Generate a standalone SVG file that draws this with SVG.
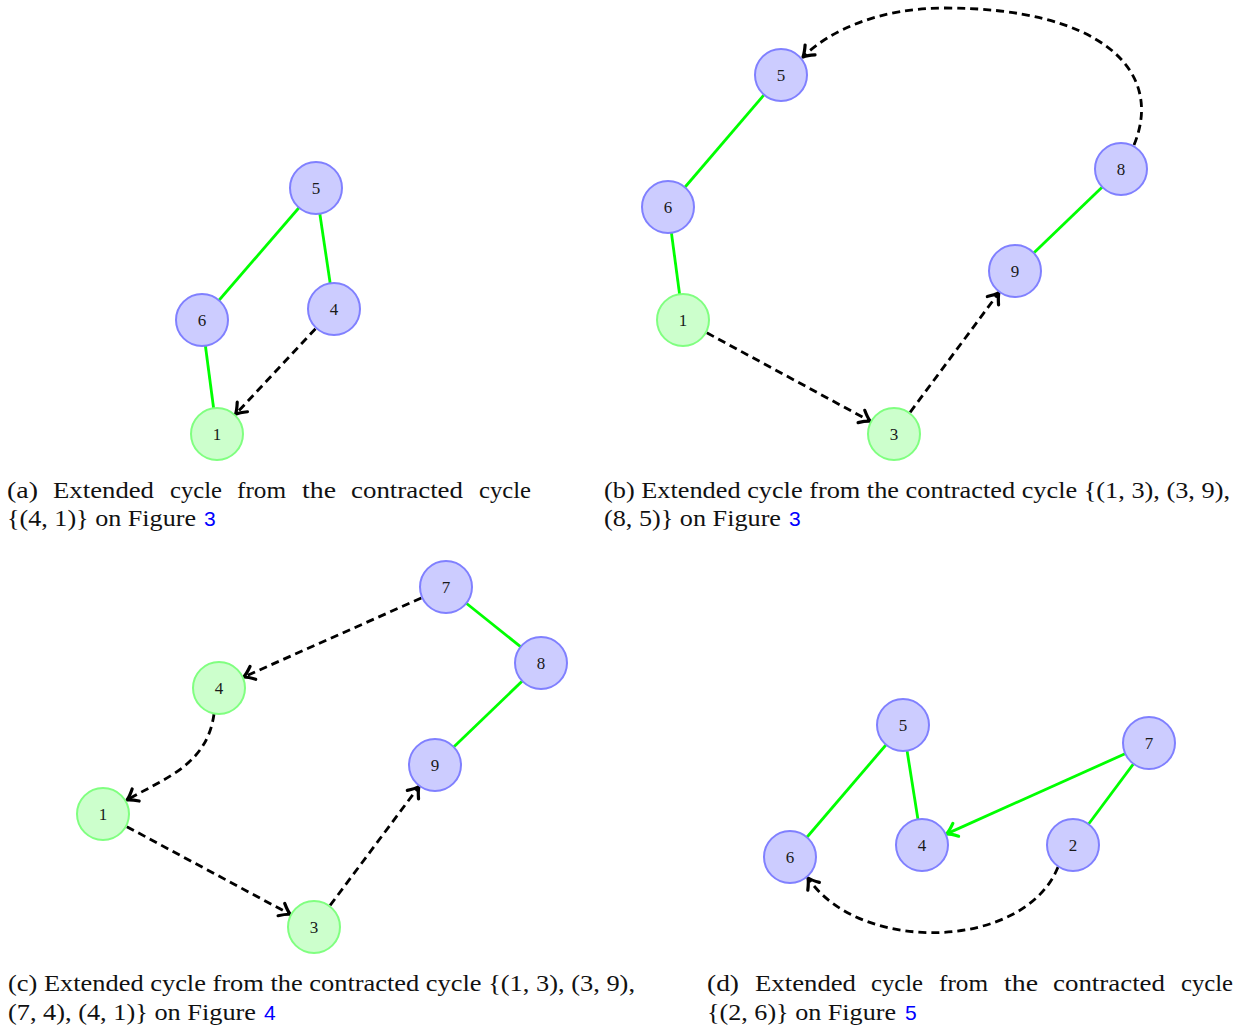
<svg xmlns="http://www.w3.org/2000/svg" width="1247" height="1028" viewBox="0 0 1247 1028">
  <style>
    .blue circle { fill: #ccccff; stroke: #8080ff; stroke-width: 2; }
    .green circle { fill: #ccffcc; stroke: #80ff80; stroke-width: 2; }
    .node text { font-family: "Liberation Serif", "DejaVu Serif", serif; font-size: 17px; fill: #1a1a1a; text-anchor: middle; }
    .solid { stroke: #00ff00; stroke-width: 2.8; fill: none; }
    .dash { stroke: #000; stroke-width: 2.8; fill: none; stroke-dasharray: 8 5; marker-end: url(#head); }
    .cap { font-family: "Liberation Serif", "DejaVu Serif", serif; font-size: 23.5px; fill: #111; }
    .ref { font-family: "Liberation Sans", "DejaVu Sans", sans-serif; font-size: 21px; fill: #0000ff; }
  </style>
  <defs>
    <marker id="head" markerUnits="userSpaceOnUse" markerWidth="24" markerHeight="24" refX="0" refY="0" viewBox="-14 -12 16 24" orient="auto" overflow="visible">
      <path d="M-10,-7 Q-4,-1.8 0,0 Q-4,1.8 -10,7" fill="none" stroke="#000" stroke-width="3.2" stroke-linecap="round" stroke-linejoin="round"/>
    </marker>
    <marker id="headG" markerUnits="userSpaceOnUse" markerWidth="24" markerHeight="24" refX="0" refY="0" viewBox="-14 -12 16 24" orient="auto" overflow="visible">
      <path d="M-10,-7 Q-4,-1.8 0,0 Q-4,1.8 -10,7" fill="none" stroke="#00ff00" stroke-width="3.2" stroke-linecap="round" stroke-linejoin="round"/>
    </marker>
  </defs>

  <!-- connectors -->
  <g id="connectors">
    <!-- (a) -->
    <line class="solid" x1="316" y1="188" x2="202" y2="320"/>
    <line class="solid" x1="316" y1="188" x2="334" y2="309"/>
    <line class="solid" x1="202" y1="320" x2="217" y2="434"/>
    <path class="dash" d="M315.5,328.7 L235.5,414.3"/>
    <!-- (b) -->
    <line class="solid" x1="781" y1="75" x2="668" y2="207"/>
    <line class="solid" x1="668" y1="207" x2="683" y2="320"/>
    <line class="solid" x1="1015" y1="271" x2="1121" y2="169"/>
    <path class="dash" d="M706.8,332.8 L870.2,421.2"/>
    <path class="dash" d="M910.1,412.3 L998.9,292.7"/>
    <path class="dash" d="M1134,145 C1165,70 1100,8 945,8 C880,8 830,30 803,57"/>
    <!-- (c) -->
    <line class="solid" x1="446" y1="587" x2="541" y2="663"/>
    <line class="solid" x1="541" y1="663" x2="435" y2="765"/>
    <path class="dash" d="M421.3,598 L243.7,677"/>
    <path class="dash" d="M214,714 C207,765 165,778 127,800"/>
    <path class="dash" d="M126.8,826.7 L290.2,914.3"/>
    <path class="dash" d="M330.1,905.4 L418.9,786.6"/>
    <!-- (d) -->
    <line class="solid" x1="903" y1="725" x2="790" y2="857"/>
    <line class="solid" x1="903" y1="725" x2="922" y2="845"/>
    <line class="solid" x1="1149" y1="743" x2="1073" y2="845"/>
    <path class="solid" d="M1149,743 L946.6,833.9" marker-end="url(#headG)"/>
    <path class="dash" d="M1058,867 C1025,950 860,955 808,878"/>
  </g>

  <!-- (a) nodes -->
  <g id="a5" class="node blue"><circle cx="316" cy="188" r="26"/><text x="316" y="194">5</text></g>
  <g id="a6" class="node blue"><circle cx="202" cy="320" r="26"/><text x="202" y="326">6</text></g>
  <g id="a4" class="node blue"><circle cx="334" cy="309" r="26"/><text x="334" y="315">4</text></g>
  <g id="a1" class="node green"><circle cx="217" cy="434" r="26"/><text x="217" y="440">1</text></g>

  <!-- (b) nodes -->
  <g id="b5" class="node blue"><circle cx="781" cy="75" r="26"/><text x="781" y="81">5</text></g>
  <g id="b6" class="node blue"><circle cx="668" cy="207" r="26"/><text x="668" y="213">6</text></g>
  <g id="b1" class="node green"><circle cx="683" cy="320" r="26"/><text x="683" y="326">1</text></g>
  <g id="b3" class="node green"><circle cx="894" cy="434" r="26"/><text x="894" y="440">3</text></g>
  <g id="b9" class="node blue"><circle cx="1015" cy="271" r="26"/><text x="1015" y="277">9</text></g>
  <g id="b8" class="node blue"><circle cx="1121" cy="169" r="26"/><text x="1121" y="175">8</text></g>

  <!-- (c) nodes -->
  <g id="c7" class="node blue"><circle cx="446" cy="587" r="26"/><text x="446" y="593">7</text></g>
  <g id="c8" class="node blue"><circle cx="541" cy="663" r="26"/><text x="541" y="669">8</text></g>
  <g id="c4" class="node green"><circle cx="219" cy="688" r="26"/><text x="219" y="694">4</text></g>
  <g id="c9" class="node blue"><circle cx="435" cy="765" r="26"/><text x="435" y="771">9</text></g>
  <g id="c1" class="node green"><circle cx="103" cy="814" r="26"/><text x="103" y="820">1</text></g>
  <g id="c3" class="node green"><circle cx="314" cy="927" r="26"/><text x="314" y="933">3</text></g>

  <!-- (d) nodes -->
  <g id="d5" class="node blue"><circle cx="903" cy="725" r="26"/><text x="903" y="731">5</text></g>
  <g id="d7" class="node blue"><circle cx="1149" cy="743" r="26"/><text x="1149" y="749">7</text></g>
  <g id="d6" class="node blue"><circle cx="790" cy="857" r="26"/><text x="790" y="863">6</text></g>
  <g id="d4" class="node blue"><circle cx="922" cy="845" r="26"/><text x="922" y="851">4</text></g>
  <g id="d2" class="node blue"><circle cx="1073" cy="845" r="26"/><text x="1073" y="851">2</text></g>

  <!-- captions: justified first lines are set word by word -->
  <g id="captions">
    <text class="cap" y="498">
      <tspan x="7" textLength="31" lengthAdjust="spacingAndGlyphs">(a)</tspan>
      <tspan x="53" textLength="101" lengthAdjust="spacingAndGlyphs">Extended</tspan>
      <tspan x="170" textLength="52" lengthAdjust="spacingAndGlyphs">cycle</tspan>
      <tspan x="237" textLength="49" lengthAdjust="spacingAndGlyphs">from</tspan>
      <tspan x="302" textLength="34" lengthAdjust="spacingAndGlyphs">the</tspan>
      <tspan x="351" textLength="112" lengthAdjust="spacingAndGlyphs">contracted</tspan>
      <tspan x="479" textLength="52" lengthAdjust="spacingAndGlyphs">cycle</tspan>
    </text>
    <text class="cap" x="7" y="526" textLength="189" lengthAdjust="spacingAndGlyphs">{(4, 1)} on Figure</text>
    <text class="ref" x="204" y="526">3</text>

    <text class="cap" x="604" y="498" textLength="626" lengthAdjust="spacingAndGlyphs">(b) Extended cycle from the contracted cycle {(1, 3), (3, 9),</text>
    <text class="cap" x="604" y="526" textLength="177" lengthAdjust="spacingAndGlyphs">(8, 5)} on Figure</text>
    <text class="ref" x="789" y="526">3</text>

    <text class="cap" x="8" y="991" textLength="627" lengthAdjust="spacingAndGlyphs">(c) Extended cycle from the contracted cycle {(1, 3), (3, 9),</text>
    <text class="cap" x="8" y="1020" textLength="248" lengthAdjust="spacingAndGlyphs">(7, 4), (4, 1)} on Figure</text>
    <text class="ref" x="264" y="1020">4</text>

    <text class="cap" y="991">
      <tspan x="707" textLength="32" lengthAdjust="spacingAndGlyphs">(d)</tspan>
      <tspan x="755" textLength="101" lengthAdjust="spacingAndGlyphs">Extended</tspan>
      <tspan x="871" textLength="52" lengthAdjust="spacingAndGlyphs">cycle</tspan>
      <tspan x="939" textLength="49" lengthAdjust="spacingAndGlyphs">from</tspan>
      <tspan x="1004" textLength="34" lengthAdjust="spacingAndGlyphs">the</tspan>
      <tspan x="1053" textLength="112" lengthAdjust="spacingAndGlyphs">contracted</tspan>
      <tspan x="1181" textLength="52" lengthAdjust="spacingAndGlyphs">cycle</tspan>
    </text>
    <text class="cap" x="707" y="1020" textLength="189" lengthAdjust="spacingAndGlyphs">{(2, 6)} on Figure</text>
    <text class="ref" x="905" y="1020">5</text>
  </g>
</svg>
